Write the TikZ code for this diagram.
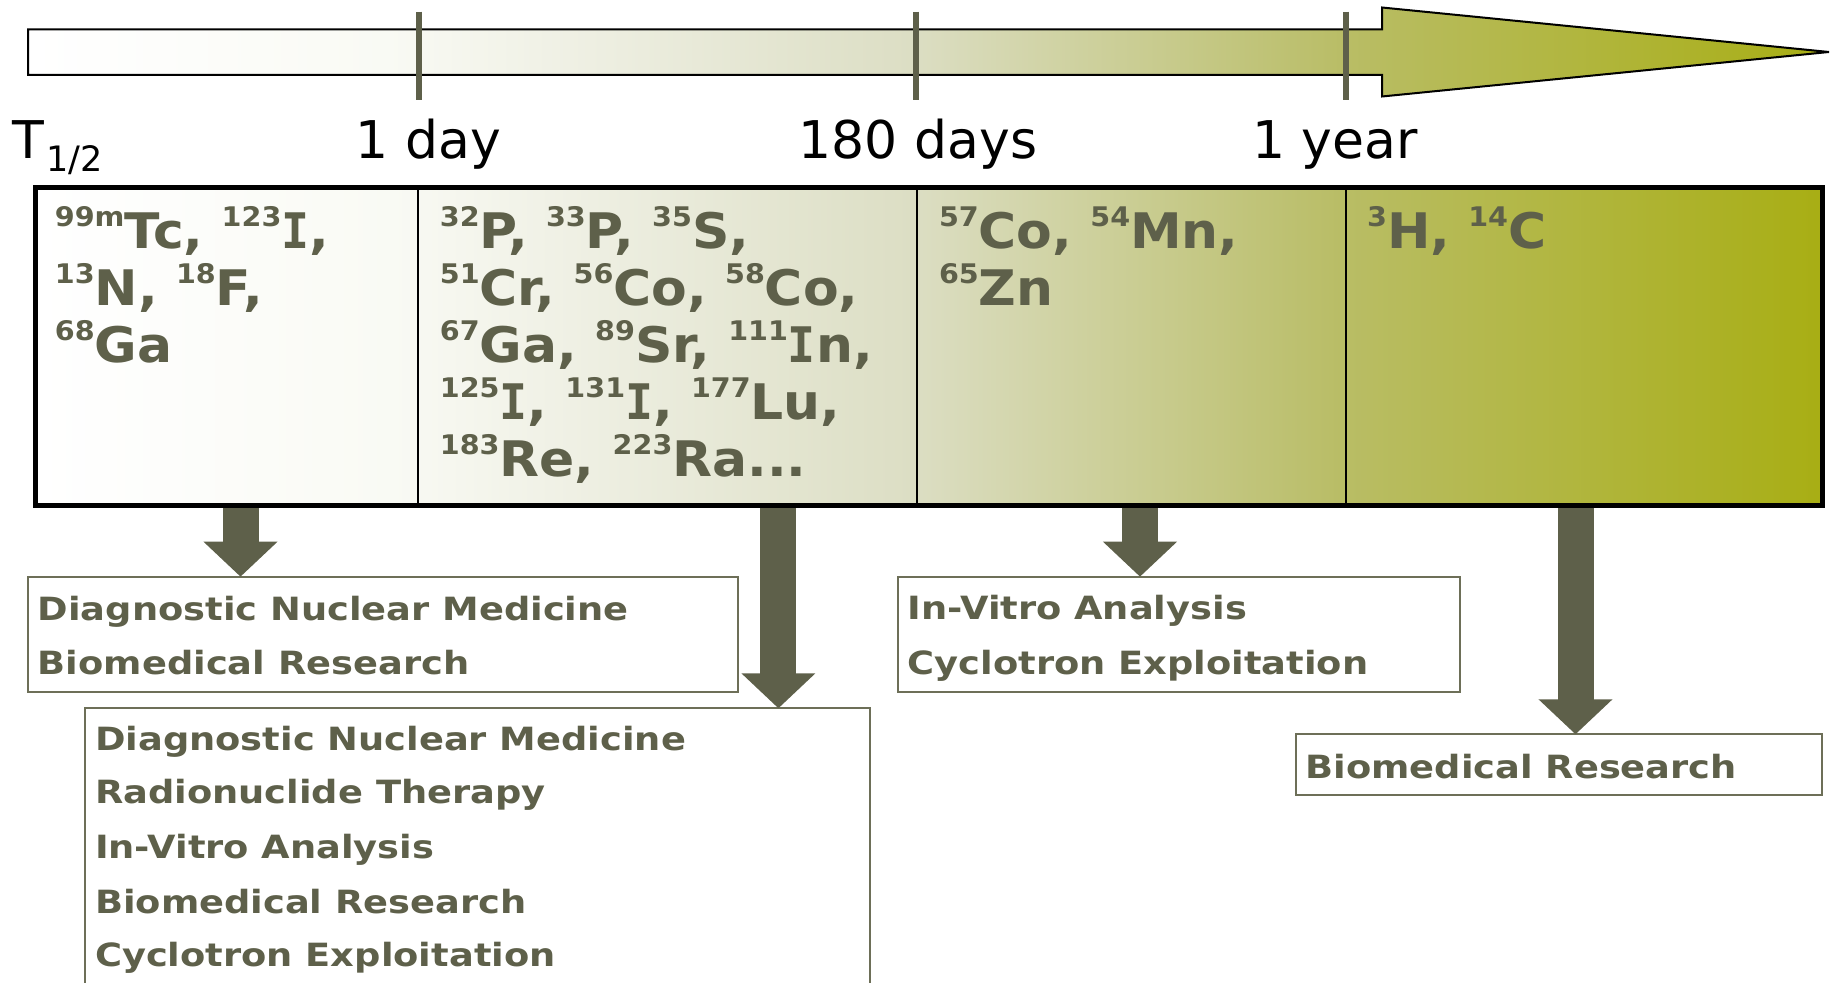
\documentclass[tikz,border=0pt]{standalone}
\usepackage{fontspec}
\setmainfont{DejaVu Sans}
\newfontfamily\appfont[FakeStretch=1.15]{DejaVu Sans}
\newfontfamily\nucfont[FakeStretch=1.06]{DejaVu Sans}
\newfontfamily\serI[FakeStretch=0.95]{DejaVu Sans Mono}
\usetikzlibrary{arrows.meta}
\definecolor{darkol}{HTML}{5E604A}
\definecolor{boxline}{HTML}{6D6F58}
\definecolor{gA}{HTML}{F9FAF4}
\definecolor{gB}{HTML}{EFF0E4}
\definecolor{gC}{HTML}{DCDEC4}
\definecolor{gD}{HTML}{B9BD66}
\definecolor{gE}{HTML}{A8AE14}
\pgfdeclarehorizontalshading{halflife}{100bp}{color(0bp)=(white); color(25bp)=(white); color(35bp)=(gA); color(40bp)=(gB); color(49.5bp)=(gC); color(61.5bp)=(gD); color(75bp)=(gE); color(100bp)=(gE)}
\newcommand\nuc[2]{\raisebox{11pt}{\fontsize{13.5}{13.5}\selectfont #1}#2}
\newcommand\Iser{{\serI\bfseries I}}
\begin{document}
\begin{tikzpicture}[x=0.5pt,y=-0.5pt,
  lbl/.style={font=\fontsize{26}{26}\selectfont, text=black, inner sep=0pt, anchor=base},
  nucl/.style={font=\nucfont\bfseries\fontsize{24.5}{24.5}\selectfont, text=darkol, inner sep=0pt, anchor=base west},
  use/.style={font=\appfont\bfseries\fontsize{16}{16}\selectfont, text=darkol, inner sep=0pt, anchor=base west},
  usebox/.style={draw=boxline, line width=1pt, fill=white, inner sep=0pt, outer sep=0pt, anchor=north west},
  cell/.style={draw=black, line width=1pt, inner sep=0pt, outer sep=0pt, anchor=north west, minimum height=159pt},
  tickmark/.style={draw=darkol, line width=3pt},
  blockarrow/.style={draw=darkol, line width=18pt, -{Triangle[length=17.5pt 0, width=36pt 0]}},
]
\useasboundingbox (0,0) rectangle (1832,983);
\clip (0,0) rectangle (1832,983);

% time axis arrow
\path[draw=black, line width=1pt, shading=halflife]
  (28,29.5) -- (1382,29.5) -- (1382,7.5) -- (1829,52) -- (1382,96.5) -- (1382,75) -- (28,75) -- cycle;
\draw[tickmark] (419,11.7) -- (419,100);
\draw[tickmark] (916,11.7) -- (916,100);
\draw[tickmark] (1346,11.7) -- (1346,100);

\node[lbl, anchor=base west] (thalf) at (12,158.3) {T\kern1pt\raisebox{-6.7pt}{\fontsize{17.5}{17.5}\selectfont 1/2}};
\node[lbl] (lday) at (428.5,159) {1 day};
\node[lbl] (l180) at (918,159) {180 days};
\node[lbl] (lyear) at (1335,159) {1 year};

% main table
\path[shading=halflife] (35.5,187.5) rectangle (1822,505.5);
\node[cell, minimum width=191.25pt] (cell1) at (35.5,187.5) {};
\node[cell, minimum width=249.5pt] (cell2) at (418,187.5) {};
\node[cell, minimum width=214.5pt] (cell3) at (917,187.5) {};
\node[cell, minimum width=238pt] (cell4) at (1346,187.5) {};
\draw[line width=2.5pt, black] (35.5,187.5) rectangle (1822,505.5);

\node[nucl] (n1a) at (54.5,249) {\nuc{99m}{Tc}, \nuc{123}{\Iser},};
\node[nucl] (n1b) at (54.5,306) {\nuc{13}{N}, \nuc{18}{F},};
\node[nucl] (n1c) at (54.5,363) {\nuc{68}{Ga}};

\node[nucl] (n2a) at (439.5,249) {\nuc{32}{P}, \nuc{33}{P}, \nuc{35}{S},};
\node[nucl] (n2b) at (439.5,306) {\nuc{51}{Cr}, \nuc{56}{Co}, \nuc{58}{Co},};
\node[nucl] (n2c) at (439.5,363) {\nuc{67}{Ga}, \nuc{89}{Sr}, \nuc{111}{\Iser n},};
\node[nucl] (n2d) at (439.5,420) {\nuc{125}{\Iser}, \nuc{131}{\Iser}, \nuc{177}{Lu},};
\node[nucl] (n2e) at (439.5,477) {\nuc{183}{Re}, \nuc{223}{Ra}...};

\node[nucl] (n3a) at (938.6,249) {\nuc{57}{Co}, \nuc{54}{Mn},};
\node[nucl] (n3b) at (938.6,306) {\nuc{65}{Zn}};

\node[nucl] (n4a) at (1366.7,249) {\nuc{3}{H}, \nuc{14}{C}};

% application boxes
\node[usebox, minimum width=355pt, minimum height=57.8pt] (boxA) at (27.6,576.7) {};
\node[usebox, minimum width=392.35pt, minimum height=150pt] (boxB) at (85,708.3) {};
\node[usebox, minimum width=280.8pt, minimum height=57.8pt] (boxC) at (898.2,576.7) {};
\node[usebox, minimum width=263.15pt, minimum height=30.5pt] (boxD) at (1296,734.3) {};

\node[use] (a1) at (37.4,620.7) {Diagnostic Nuclear Medicine};
\node[use] (a2) at (37.4,675) {Biomedical Research};

\node[use] (b1) at (94.7,750) {Diagnostic Nuclear Medicine};
\node[use] (b2) at (94.7,804) {Radionuclide Therapy};
\node[use] (b3) at (94.7,858.3) {In-Vitro Analysis};
\node[use] (b4) at (94.7,913.3) {Biomedical Research};
\node[use] (b5) at (94.7,966.7) {Cyclotron Exploitation};

\node[use] (c1) at (907.3,620) {In-Vitro Analysis};
\node[use] (c2) at (907.3,675) {Cyclotron Exploitation};

\node[use] (d1) at (1305,778.3) {Biomedical Research};

% block arrows
\coordinate (s1) at (240.5,508);
\coordinate (s2) at (778.4,508);
\coordinate (s3) at (1140,508);
\coordinate (s4) at (1575.5,508);
\draw[blockarrow] (s1) -- (s1 |- boxA.north);
\draw[blockarrow] (s2) -- (s2 |- boxB.north);
\draw[blockarrow] (s3) -- (s3 |- boxC.north);
\draw[blockarrow] (s4) -- (s4 |- boxD.north);
\end{tikzpicture}
\end{document}
